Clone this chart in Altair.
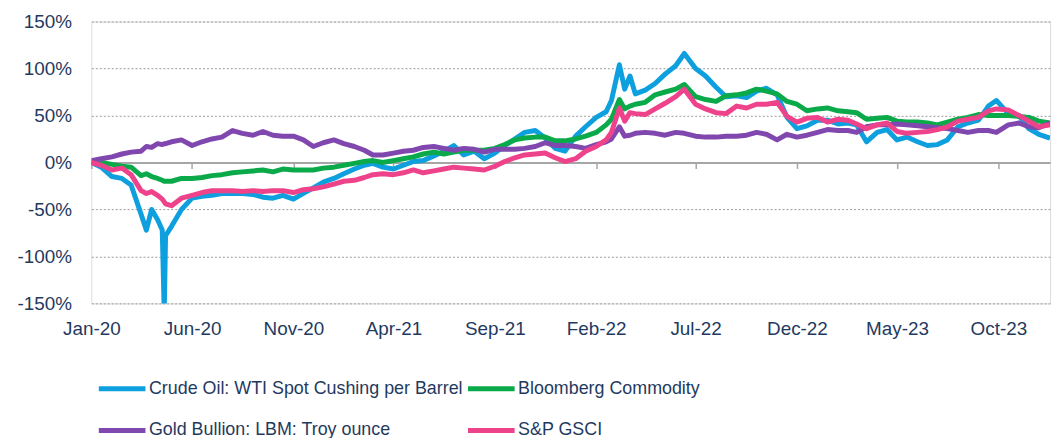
import altair as alt
import pandas as pd

# ---- dates (semi-monthly plus a few event days) ----
dates_2020 = ["2020-01-01", "2020-01-16", "2020-02-01", "2020-02-16", "2020-03-01", "2020-03-16",
              "2020-03-24", "2020-04-01", "2020-04-10", "2020-04-17", "2020-04-20", "2020-04-22",
              "2020-05-01", "2020-05-16", "2020-06-01", "2020-06-16", "2020-07-01", "2020-07-16",
              "2020-08-01", "2020-08-16", "2020-09-01", "2020-09-16", "2020-10-01", "2020-10-16",
              "2020-11-01", "2020-11-16", "2020-12-01", "2020-12-16"]
dates_2021 = [f"2021-{m:02d}-{d}" for m in range(1, 13) for d in ("01", "16")]
dates_2022 = ["2022-01-01", "2022-01-16", "2022-02-01", "2022-02-16", "2022-02-24", "2022-03-08",
              "2022-03-16", "2022-03-24", "2022-04-01", "2022-04-16", "2022-05-01", "2022-05-16",
              "2022-06-01", "2022-06-14", "2022-07-01", "2022-07-16", "2022-08-01", "2022-08-16",
              "2022-09-01", "2022-09-16", "2022-10-01", "2022-10-16", "2022-11-01", "2022-11-16",
              "2022-12-01", "2022-12-16"]
dates_2023 = ([f"2023-{m:02d}-{d}" for m in range(1, 10) for d in ("01", "16")]
              + ["2023-09-28", "2023-10-16", "2023-11-01", "2023-11-16", "2023-12-01", "2023-12-18"])
dates = dates_2020 + dates_2021 + dates_2022 + dates_2023

# ---- series values (% change since Jan-20) ----
crude = ([0, -5, -15, -17, -24, -55, -72, -50, -61, -72, -160, -78, -68, -50, -38, -36, -35, -33,
          -33, -33, -34, -37, -38, -35, -39, -33, -27, -21]
         + [-17, -12, -7, -3, -1, -5, -7, -3, 1, 2, 7, 12, 18, 8, 12, 4, 10, 18, 25, 32, 34, 26, 15, 12]
         + [28, 38, 48, 54, 66, 104, 78, 92, 73, 77, 84, 94, 103, 116, 100, 92, 80, 70, 71, 69, 76,
            79, 72, 48, 36, 39]
         + [45, 45, 41, 42, 40, 22, 32, 35, 24, 27, 22, 18, 19, 24, 38, 42, 45, 60, 66, 52, 50, 36, 30, 26])
bloomberg = ([0, 0, -2, -4, -5, -14, -12, -15, -17, -19, -20, -20, -20, -17, -17, -16, -14, -13,
              -11, -10, -9, -8, -10, -7, -8, -8, -8, -6]
             + [-5, -3, -1, 1, 2, 0, 2, 4, 6, 9, 11, 9, 11, 13, 13, 13, 15, 19, 24, 26, 27, 27, 23, 23]
             + [25, 28, 32, 40, 46, 67, 57, 60, 62, 64, 72, 75, 78, 83, 70, 67, 65, 71, 72, 74, 78,
                76, 73, 65, 62, 55]
             + [57, 58, 55, 54, 53, 46, 47, 48, 44, 43, 43, 42, 40, 43, 46, 48, 51, 50, 50, 50, 49, 48, 44, 42])
gold = ([2, 4, 6, 9, 11, 12, 17, 16, 20, 19, 20, 20, 22, 24, 18, 22, 25, 27, 34, 31, 29, 33, 29,
         28, 28, 24, 17, 21]
        + [24, 20, 17, 13, 8, 8, 10, 12, 13, 16, 17, 15, 13, 15, 14, 11, 14, 14, 14, 15, 17, 21, 18, 18]
        + [17, 15, 19, 22, 25, 38, 28, 29, 31, 32, 31, 29, 32, 31, 28, 27, 27, 28, 28, 29, 32, 30,
           24, 30, 27, 29]
        + [32, 35, 34, 34, 32, 38, 40, 40, 41, 40, 39, 38, 37, 36, 34, 32, 34, 34, 32, 40, 42, 38, 37, 42])
gsci = ([0, -3, -8, -6, -13, -30, -33, -31, -35, -39, -42, -44, -46, -38, -35, -32, -30, -30, -30,
         -31, -30, -31, -30, -30, -32, -29, -28, -26]
        + [-23, -20, -19, -16, -13, -12, -13, -11, -8, -11, -9, -7, -5, -6, -7, -8, -4, 1, 5, 8, 9, 10, 5, 1]
        + [4, 12, 17, 24, 32, 58, 44, 53, 52, 51, 57, 63, 70, 78, 62, 57, 53, 52, 60, 58, 62, 62,
           64, 49, 43, 47]
        + [48, 43, 46, 45, 41, 36, 40, 42, 33, 31, 32, 33, 35, 38, 44, 46, 48, 55, 57, 56, 50, 44, 38, 40])

series_names = ["Crude Oil: WTI Spot Cushing per Barrel", "Bloomberg Commodity",
                "Gold Bullion: LBM: Troy ounce", "S&P GSCI"]
series_colors = ["#0EA0DE", "#0AAA4B", "#8048AE", "#EE428B"]

y_ticks = [-150, -100, -50, 0, 50, 100, 150]
x_ticks = [(2020, 1), (2020, 6), (2020, 11), (2021, 4), (2021, 9), (2022, 2), (2022, 7),
           (2022, 12), (2023, 5), (2023, 10)]

rows = []
for name, vals in zip(series_names, [crude, bloomberg, gold, gsci]):
    assert len(vals) == len(dates), (name, len(vals), len(dates))
    for d, v in zip(dates, vals):
        rows.append({"date": d, "series": name, "value": v})
df = pd.DataFrame(rows)

text_color = "#1F3A60"
font = "Liberation Sans"

x_enc = alt.X(
    "date:T",
    scale=alt.Scale(type="utc",
                    domain=[alt.DateTime(year=2020, month=1, date=1, utc=True),
                            alt.DateTime(year=2023, month=12, date=18, utc=True)]),
    axis=alt.Axis(
        values=[alt.DateTime(year=y, month=m, date=1, utc=True) for y, m in x_ticks],
        labelExpr="utcFormat(datum.value, '%b-%y')",
        title=None, grid=False, offset=-142,
        domainColor="#A6A6A6", domainWidth=2,
        tickColor="#A6A6A6", tickWidth=1.5, tickSize=6,
        labelPadding=152, labelFontSize=19, labelColor=text_color, labelFont=font,
        labelFlush=False, labelOverlap=False,
    ),
)
y_enc = alt.Y(
    "value:Q",
    scale=alt.Scale(domain=[-150, 150], nice=False),
    axis=alt.Axis(
        values=y_ticks, labelExpr="datum.value + '%'", title=None,
        grid=True, gridDash=[2, 2], gridColor="#9A9A9A", gridWidth=1,
        domain=False, ticks=False, tickSize=0, labelPadding=20,
        labelFontSize=19, labelColor=text_color, labelFont=font,
    ),
)
color_enc = alt.Color(
    "series:N",
    scale=alt.Scale(domain=series_names, range=series_colors),
    legend=alt.Legend(
        title=None, orient="none", direction="horizontal", legendX=5, legendY=344, columns=2,
        symbolType="stroke", symbolSize=2209, symbolStrokeWidth=5,
        labelFontSize=18, labelColor=text_color, labelFont=font, labelLimit=0,
        labelOffset=1, columnPadding=-6, rowPadding=6,
    ),
)

chart = (
    alt.Chart(df)
    .mark_line(strokeWidth=5, clip=True, strokeJoin="round")
    .encode(x=x_enc, y=y_enc, color=color_enc)
    .properties(
        width=966, height=284,
        autosize=alt.AutoSizeParams(type="none"),
        padding={"left": 84, "top": 12, "right": 3, "bottom": 134},
    )
    .configure_view(stroke=None)
    .configure(font=font)
)

chart.save("out.html", embed_options={"renderer": "svg", "actions": False})
